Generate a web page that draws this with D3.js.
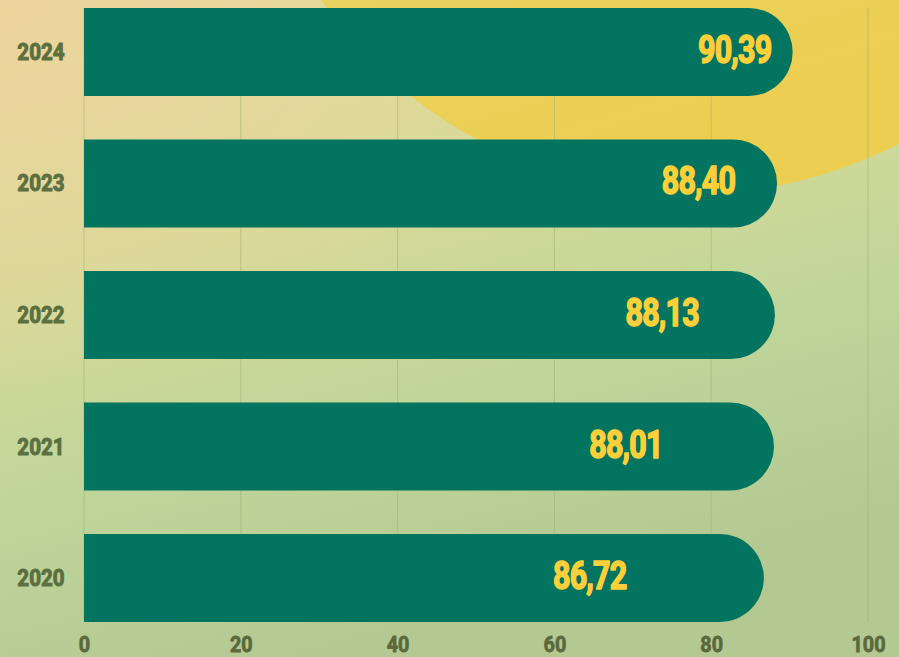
<!DOCTYPE html>
<html>
<head>
<meta charset="utf-8">
<script src="https://cdn.jsdelivr.net/npm/d3@7"></script>
<style>
  html, body { margin: 0; padding: 0; background: #d9d99a; }
  svg { display: block; }
</style>
</head>
<body>
<div id="vizcontainer"></div>
<script>
// data
var years = ["2024", "2023", "2022", "2021", "2020"];
var values = [90.39, 88.40, 88.13, 88.01, 86.72];
var labels = ["90,39", "88,40", "88,13", "88,01", "86,72"];
var ticks = [0, 20, 40, 60, 80, 100];

var wwidth = 899;
var hheight = 657;

var svg = d3.select("#vizcontainer").append("svg")
    .attr("width", wwidth)
    .attr("height", hheight);

var defs = svg.append("defs");

var bg = defs.append("linearGradient")
    .attr("id", "bggrad")
    .attr("x1", "0%").attr("y1", "0%")
    .attr("x2", "35%").attr("y2", "100%");
bg.append("stop").attr("offset", "0%").attr("stop-color", "#e6da9c");
bg.append("stop").attr("offset", "40%").attr("stop-color", "#d6da98");
bg.append("stop").attr("offset", "70%").attr("stop-color", "#bfd59a");
bg.append("stop").attr("offset", "100%").attr("stop-color", "#b4c992");

var warm = defs.append("radialGradient")
    .attr("id", "warm")
    .attr("cx", "0%").attr("cy", "0%").attr("r", "60%");
warm.append("stop").attr("offset", "0%").attr("stop-color", "#edd39c").attr("stop-opacity", 0.9);
warm.append("stop").attr("offset", "100%").attr("stop-color", "#edd39c").attr("stop-opacity", 0);

var sun = defs.append("linearGradient")
    .attr("id", "sun")
    .attr("x1", "0%").attr("y1", "0%")
    .attr("x2", "30%").attr("y2", "100%");
sun.append("stop").attr("offset", "40%").attr("stop-color", "#e6d777");
sun.append("stop").attr("offset", "100%").attr("stop-color", "#ecce50");

svg.append("rect")
    .attr("width", wwidth).attr("height", hheight)
    .attr("fill", "url(#bggrad)");
svg.append("rect")
    .attr("width", wwidth).attr("height", hheight)
    .attr("fill", "url(#warm)");

// the big yellow disc behind the top right
svg.append("circle")
    .attr("cx", 692).attr("cy", -258).attr("r", 452)
    .attr("fill", "url(#sun)");

var x = d3.scaleLinear().domain([0, 100]).range([84, 868]);
var y = d3.scaleBand().domain(years).range([8, 622]).paddingInner(0.331).paddingOuter(0);

var g = svg.append("g");

// grid
g.append("g").selectAll(".grid")
    .data(ticks)
    .enter().append("line")
    .attr("class", "grid")
    .attr("x1", function(d){ return x(d); })
    .attr("x2", function(d){ return x(d); })
    .attr("y1", y.range()[0])
    .attr("y2", y.range()[1])
    .attr("stroke", "#9fb070")
    .attr("stroke-opacity", 0.55)
    .attr("stroke-width", 1);

// bars with a round right end
var h = y.bandwidth();
var r = h / 2;
g.append("g").selectAll(".bar")
    .data(values)
    .enter().append("path")
    .attr("class", "bar")
    .attr("fill", "#027460")
    .attr("d", function(d, i){
        var y0 = y(years[i]);
        var xe = x(d);
        return "M" + x(0) + "," + y0 +
            "H" + (xe - r) +
            "A" + r + "," + r + " 0 0 1 " + (xe - r) + "," + (y0 + h) +
            "H" + x(0) + "Z";
    });

// value labels, drifting left row by row as in the original
g.append("g").selectAll(".val")
    .data(labels)
    .enter().append("text")
    .attr("class", "val")
    .attr("transform", function(d, i){
        var cx = x(83) - i * 36.25;
        return "translate(" + cx + "," + (y(years[i]) + h / 2 + 11) + ") scale(0.78,1)";
    })
    .attr("text-anchor", "middle")
    .attr("font-family", "Roboto, 'Liberation Sans', sans-serif")
    .attr("font-weight", 700)
    .attr("font-size", "39px")
    .attr("fill", "#fdd03a")
    .attr("stroke", "#fdd03a")
    .attr("stroke-width", 1.6)
    .attr("stroke-linejoin", "round")
    .style("letter-spacing", "-1px")
    .text(function(d){ return d; });

// year labels
g.append("g").selectAll(".year")
    .data(years)
    .enter().append("text")
    .attr("class", "year")
    .attr("transform", function(d){
        return "translate(41," + (y(d) + h / 2 + 8) + ") scale(0.86,1)";
    })
    .attr("text-anchor", "middle")
    .attr("font-family", "Roboto, 'Liberation Sans', sans-serif")
    .attr("font-weight", 700)
    .attr("font-size", "24px")
    .attr("fill", "#5b6f3f")
    .attr("stroke", "#5b6f3f")
    .attr("stroke-width", 1)
    .attr("stroke-linejoin", "round")
    .text(function(d){ return d; });

// x axis tick labels
var axis = d3.axisBottom(x).tickValues(ticks).tickSize(0).tickPadding(0);
var ax = svg.append("g")
    .attr("transform", "translate(0,630)")
    .call(axis);
ax.select(".domain").remove();
ax.selectAll("text")
    .attr("dy", 0)
    .attr("y", 22)
    .attr("font-family", "Roboto, 'Liberation Sans', sans-serif")
    .attr("font-weight", 700)
    .attr("font-size", "22px")
    .attr("fill", "#5a6a3c")
    .attr("stroke", "#5a6a3c")
    .attr("stroke-width", 0.8)
    .attr("stroke-linejoin", "round")
    .attr("transform", "scale(0.9,1)");
</script>
</body>
</html>
